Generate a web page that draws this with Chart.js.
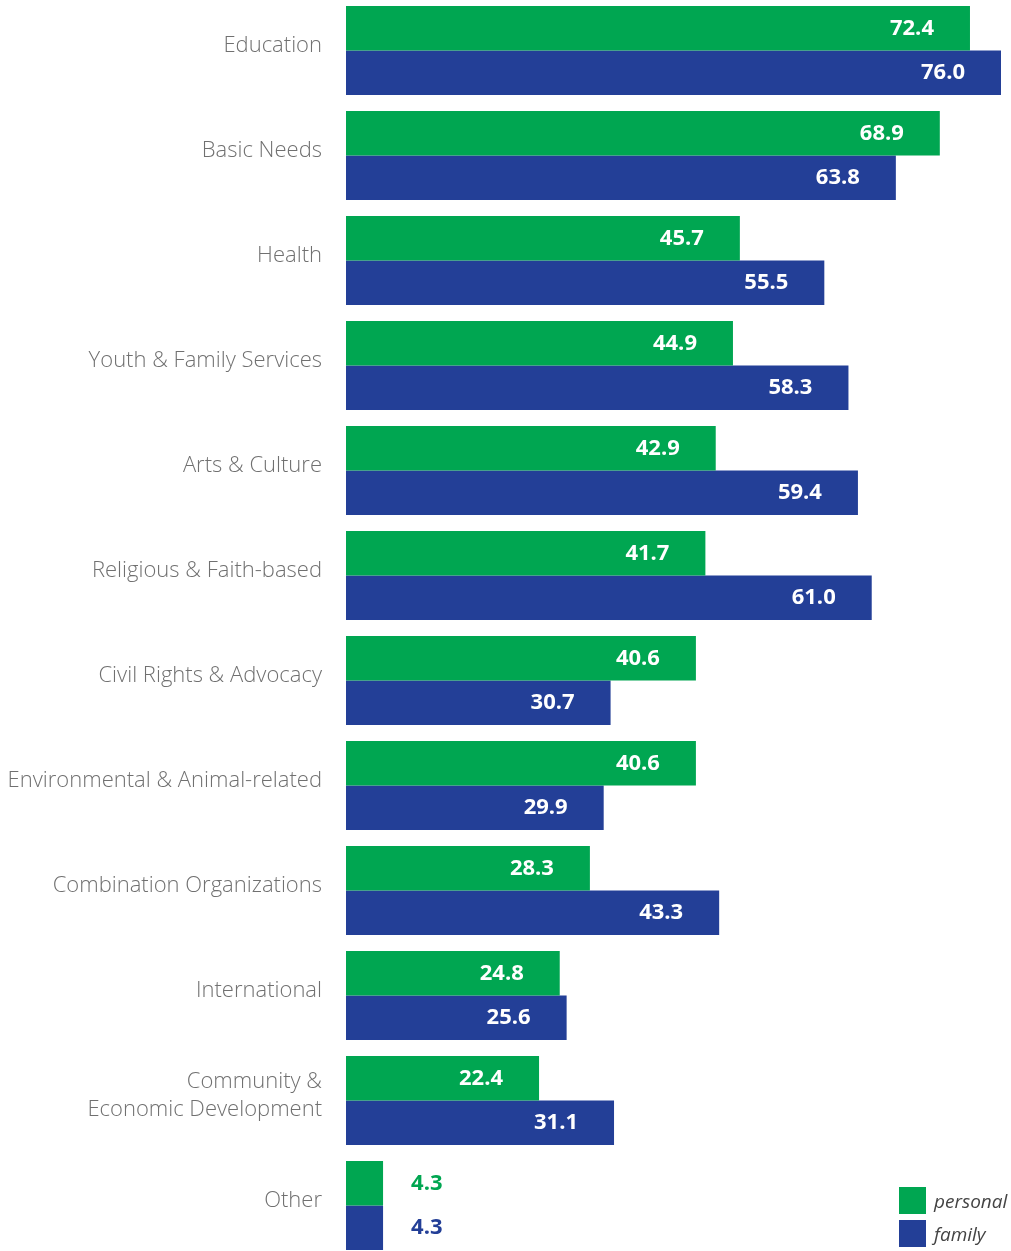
<!DOCTYPE html>
<html lang="en">
<head>
    <meta charset="UTF-8">
    <title>Giving by cause</title>
    <script src="https://cdn.jsdelivr.net/npm/chart.js"></script>
    <style>
        * { margin: 0; padding: 0; box-sizing: border-box; }
        body { width: 1011px; height: 1251px; overflow: hidden; background: #fff; position: relative; font-family: "Open Sans", sans-serif; }
        .wrap { position: absolute; left: 0; top: -2px; width: 1011px; height: 1260px; }
        .legend { position: absolute; left: 899px; top: 1187px; }
        .legend div { display: flex; align-items: center; height: 27px; margin-bottom: 6px; font-style: italic; font-size: 19px; color: #444; }
        .legend span { display: inline-block; width: 27px; height: 27px; margin-right: 8px; }
    </style>
</head>
<body>
    <div class="wrap"><canvas id="causeChart"></canvas></div>
    <div class="legend" id="legend"></div>

    <script>
        const categories = [
            'Education', 'Basic Needs', 'Health', 'Youth & Family Services', 'Arts & Culture',
            'Religious & Faith-based', 'Civil Rights & Advocacy', 'Environmental & Animal-related',
            'Combination Organizations', 'International', ['Community &', 'Economic Development'], 'Other'
        ];
        const seriesNames = ['personal', 'family'];
        const personal = [72.4, 68.9, 45.7, 44.9, 42.9, 41.7, 40.6, 40.6, 28.3, 24.8, 22.4, 4.3];
        const family = [76.0, 63.8, 55.5, 58.3, 59.4, 61.0, 30.7, 29.9, 43.3, 25.6, 31.1, 4.3];
        const colors = ['#00a651', '#233f97'];

        // value labels inside the bar end, or outside for tiny bars
        const valueLabels = {
            id: 'valueLabels',
            afterDatasetsDraw(chart) {
                const ctx = chart.ctx;
                ctx.save();
                ctx.font = 'bold 22px "Open Sans", sans-serif';
                ctx.textBaseline = 'middle';
                chart.data.datasets.forEach((ds, i) => {
                    chart.getDatasetMeta(i).data.forEach((bar, j) => {
                        const v = ds.data[j];
                        if (v < 10) {
                            ctx.fillStyle = colors[i];
                            ctx.textAlign = 'left';
                            ctx.fillText(v.toFixed(1), bar.x + 28, bar.y);
                        } else {
                            ctx.fillStyle = '#fff';
                            ctx.textAlign = 'right';
                            ctx.fillText(v.toFixed(1), bar.x - 36, bar.y);
                        }
                    });
                });
                ctx.restore();
            }
        };

        new Chart(document.getElementById('causeChart'), {
            type: 'bar',
            data: {
                labels: categories,
                datasets: [
                    { label: seriesNames[0], data: personal, backgroundColor: colors[0] },
                    { label: seriesNames[1], data: family, backgroundColor: colors[1] }
                ]
            },
            options: {
                indexAxis: 'y',
                responsive: true,
                maintainAspectRatio: false,
                animation: false,
                layout: { padding: { left: 0, right: 10, top: 0, bottom: 0 } },
                datasets: { bar: { categoryPercentage: 0.848, barPercentage: 1 } },
                scales: {
                    x: { display: false, min: 0, max: 76 },
                    y: {
                        grid: { display: false, drawTicks: false },
                        border: { display: false },
                        ticks: {
                            padding: 24,
                            labelOffset: -5,
                            color: '#707070',
                            font: { family: '"Open Sans"', weight: 300, size: 22, lineHeight: 1.25 }
                        },
                        afterFit(scale) {
                            scale.width = 346;
                            scale.paddingTop = 0;
                            scale.paddingBottom = 0;
                        }
                    }
                },
                plugins: { legend: { display: false }, tooltip: { enabled: false } }
            },
            plugins: [valueLabels]
        });

        const legend = document.getElementById('legend');
        seriesNames.forEach((name, i) => {
            const row = document.createElement('div');
            row.innerHTML = '<span style="background:' + colors[i] + '"></span>' + name;
            legend.appendChild(row);
        });
    </script>
</body>
</html>
